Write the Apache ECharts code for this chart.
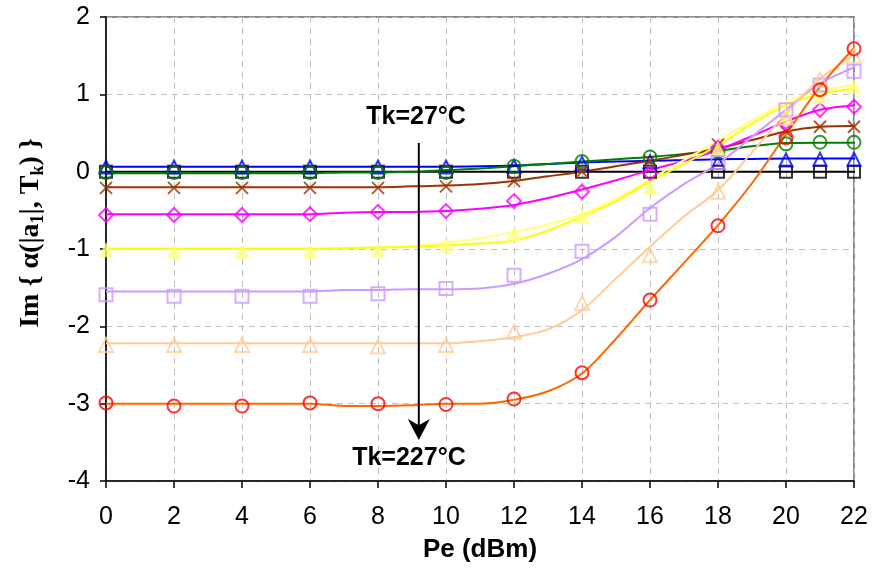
<!DOCTYPE html>
<html>
<head>
<meta charset="utf-8">
<script src="https://cdn.jsdelivr.net/npm/echarts@6/dist/echarts.min.js"></script>
<style>
  html, body { margin: 0; padding: 0; background: #ffffff; }
  #chart { width: 872px; height: 572px; }
</style>
</head>
<body>
<div id="chart"></div>
<script>
// Input power levels (dBm) where the measured points sit
const pePoints = [0, 2, 4, 6, 8, 10, 12, 14, 16, 18, 20, 21, 22];
// Input power levels (dBm) for the continuous curves
const peCurve = [0, 1, 2, 3, 4, 5, 6, 7, 8, 9, 10, 11, 12, 13, 14, 15, 16, 17, 18, 19, 20, 21, 22, 22.25];

// Measured Im{alpha} per temperature
const pts27  = [0, 0, 0, 0, 0, 0, 0, 0, 0, 0, 0, 0, 0];
const pts52  = [0.06, 0.06, 0.06, 0.06, 0.06, 0.06, 0.07, 0.11, 0.13, 0.12, 0.15, 0.16, 0.16];
const pts77  = [-0.01, -0.01, -0.01, -0.01, -0.01, -0.01, 0.07, 0.13, 0.19, 0.26, 0.36, 0.38, 0.38];
const pts102 = [-0.21, -0.21, -0.21, -0.21, -0.21, -0.19, -0.12, 0.0, 0.14, 0.35, 0.52, 0.58, 0.58];
const pts127 = [-0.56, -0.56, -0.56, -0.55, -0.52, -0.51, -0.38, -0.26, -0.02, 0.31, 0.64, 0.80, 0.84];
const pts152 = [-1.01, -1.03, -1.03, -1.03, -1.01, -0.95, -0.80, -0.58, -0.20, 0.30, 0.73, 0.97, 1.10];
const pts177 = [-1.59, -1.61, -1.61, -1.61, -1.58, -1.51, -1.34, -1.03, -0.55, 0.12, 0.80, 1.12, 1.30];
const pts202 = [-2.24, -2.24, -2.24, -2.24, -2.26, -2.24, -2.07, -1.70, -1.08, -0.26, 0.70, 1.19, 1.50];
const pts227 = [-2.99, -3.03, -3.03, -2.99, -3.00, -3.01, -2.94, -2.60, -1.66, -0.70, 0.44, 1.06, 1.59];

// Model curves per temperature
const fit27  = [0, 0, 0, 0, 0, 0, 0, 0, 0, 0, 0, 0, 0, 0, 0, 0, 0, 0, 0, 0, 0, 0, 0, 0];
const fit52  = [0.065, 0.065, 0.065, 0.065, 0.065, 0.065, 0.065, 0.065, 0.065, 0.065, 0.065, 0.07, 0.08, 0.10, 0.12, 0.13, 0.14, 0.15, 0.16, 0.165, 0.17, 0.17, 0.17, 0.17];
const fit77  = [-0.02, -0.02, -0.02, -0.02, -0.02, -0.02, -0.02, -0.01, -0.01, 0.0, 0.02, 0.04, 0.07, 0.10, 0.13, 0.16, 0.19, 0.23, 0.27, 0.33, 0.37, 0.375, 0.375, 0.375];
const fit102 = [-0.20, -0.20, -0.20, -0.20, -0.20, -0.20, -0.20, -0.20, -0.20, -0.19, -0.18, -0.16, -0.12, -0.06, 0.0, 0.07, 0.14, 0.22, 0.30, 0.41, 0.52, 0.58, 0.59, 0.59];
const fit127 = [-0.55, -0.55, -0.55, -0.55, -0.55, -0.55, -0.55, -0.53, -0.52, -0.52, -0.51, -0.48, -0.43, -0.34, -0.23, -0.11, 0.02, 0.14, 0.28, 0.46, 0.65, 0.80, 0.86, 0.88];
const fit152 = [-1.00, -1.00, -1.00, -1.00, -1.00, -1.00, -1.00, -0.99, -0.98, -0.97, -0.95, -0.93, -0.89, -0.76, -0.58, -0.38, -0.13, 0.10, 0.34, 0.62, 0.86, 1.00, 1.08, 1.12];
const fit152b = [-0.99, -0.99, -0.99, -0.99, -0.99, -0.99, -0.99, -0.99, -0.98, -0.96, -0.92, -0.86, -0.78, -0.68, -0.55, -0.35, -0.10, 0.15, 0.40, 0.66, 0.90, 1.05, 1.12, 1.15];
const fit177 = [-1.55, -1.55, -1.55, -1.55, -1.55, -1.55, -1.55, -1.53, -1.53, -1.52, -1.52, -1.51, -1.45, -1.32, -1.13, -0.84, -0.47, -0.16, 0.10, 0.45, 0.80, 1.14, 1.35, 1.40];
const fit202 = [-2.22, -2.22, -2.22, -2.22, -2.22, -2.22, -2.22, -2.22, -2.22, -2.22, -2.22, -2.19, -2.14, -2.04, -1.79, -1.38, -0.97, -0.58, -0.24, 0.25, 0.75, 1.20, 1.52, 1.60];
const fit227 = [-3.00, -3.00, -3.00, -3.00, -3.00, -3.00, -3.00, -3.03, -3.03, -3.02, -3.00, -3.00, -2.95, -2.84, -2.61, -2.16, -1.66, -1.18, -0.69, -0.15, 0.48, 1.10, 1.60, 1.70];

// Axis ticks
const xTicks = { min: 0, max: 22, step: 2 };
const yTicks = { min: -4, max: 2, step: 1 };

const SANS = '"Liberation Sans", Arial, sans-serif';
const SERIF = '"Liberation Serif", "Times New Roman", serif';
const X_PATH = 'path://M0,0L10,10M10,0L0,10';

const curves = [
  { y: fit27,  color: '#000000' },
  { y: fit52,  color: '#0000ff' },
  { y: fit77,  color: '#008000' },
  { y: fit102, color: '#993300' },
  { y: fit127, color: '#ff00ff' },
  { y: fit152b, color: '#ffff80' },
  { y: fit152, color: '#ffff00' },
  { y: fit177, color: '#cc99ff' },
  { y: fit202, color: '#ffcc99' },
  { y: fit227, color: '#ff6600' }
];

const markers = [
  { y: pts27,  symbol: 'rect',     size: 12, stroke: '#000000' },
  { y: pts52,  symbol: 'triangle', size: 13, stroke: '#0000ff' },
  { y: pts77,  symbol: 'circle',   size: 13, stroke: '#008000' },
  { y: pts102, symbol: X_PATH,     size: 12, stroke: '#993300' },
  { y: pts127, symbol: 'diamond',  size: 14, stroke: '#ff00ff' },
  { y: pts152, symbol: 'triangle', size: 15, fill: '#ffff80' },
  { y: pts177, symbol: 'rect',     size: 13, stroke: '#cc99ff' },
  { y: pts202, symbol: 'triangle', size: 14, stroke: '#ffcc99' },
  { y: pts227, symbol: 'circle',   size: 13, stroke: '#ff0000' }
];

const zip = (xs, ys) => xs.map((x, i) => [x, ys[i]]);

const series = [];
curves.forEach(c => {
  series.push({
    type: 'line',
    data: zip(peCurve, c.y),
    symbol: 'none',
    smooth: 0.3,
    clip: false,
    lineStyle: { color: c.color, width: 2 },
    z: 2,
    silent: true
  });
});
markers.forEach(m => {
  series.push({
    type: 'scatter',
    data: zip(pePoints, m.y),
    symbol: m.symbol,
    symbolSize: m.size,
    clip: false,
    itemStyle: m.fill
      ? { color: m.fill, borderWidth: 0 }
      : { color: 'rgba(0,0,0,0)', borderColor: m.stroke, borderWidth: 2 },
    z: 3,
    silent: true
  });
});

const chart = echarts.init(document.getElementById('chart'), null, { renderer: 'canvas' });

chart.setOption({
  animation: false,
  backgroundColor: '#ffffff',
  grid: {
    left: 106, top: 17, right: 18, bottom: 91,
    show: true, borderColor: '#8c8c8c', borderWidth: 2
  },
  xAxis: {
    type: 'value',
    min: xTicks.min, max: xTicks.max, interval: xTicks.step,
    axisLine: { show: true, onZero: false, lineStyle: { color: '#000000', width: 1.5 } },
    axisTick: { show: true, inside: false, length: 7, lineStyle: { color: '#000000', width: 1.5 } },
    axisLabel: { color: '#000000', fontSize: 25, fontFamily: SANS, margin: 24 },
    splitLine: { show: true, lineStyle: { color: '#c0c0c0', width: 1, type: [6, 5] } },
    name: 'Pe (dBm)',
    nameLocation: 'middle',
    nameGap: 56,
    nameTextStyle: { color: '#000000', fontSize: 26, fontWeight: 'bold', fontFamily: SANS }
  },
  yAxis: {
    type: 'value',
    min: yTicks.min, max: yTicks.max, interval: yTicks.step,
    axisLine: { show: true, onZero: false, lineStyle: { color: '#000000', width: 1.5 } },
    axisTick: { show: true, inside: false, length: 6, lineStyle: { color: '#000000', width: 1.5 } },
    axisLabel: { color: '#000000', fontSize: 25, fontFamily: SANS, margin: 16 },
    splitLine: { show: true, lineStyle: { color: '#c0c0c0', width: 1, type: [6, 5] } }
  },
  series: series
});

// Temperature sweep annotation: labels and arrow placed in data coordinates
const noteTop = { text: 'Tk=27°C', at: [9.12, 0.71] };
const noteBottom = { text: 'Tk=227°C', at: [8.91, -3.70] };
const arrowFrom = [9.2, 0.37];
const arrowTo = [9.2, -3.47];

const px = p => chart.convertToPixel({ gridIndex: 0 }, p);
const a0 = px(arrowFrom);
const a1 = px(arrowTo);
const headLen = 21, headHalf = 11;

const noteStyle = t => ({
  text: t, fill: '#000000', font: 'bold 25px ' + SANS,
  align: 'center', verticalAlign: 'middle'
});

chart.setOption({
  graphic: [
    {
      type: 'text', x: px(noteTop.at)[0], y: px(noteTop.at)[1],
      style: noteStyle(noteTop.text), z: 10
    },
    {
      type: 'text', x: px(noteBottom.at)[0], y: px(noteBottom.at)[1],
      style: noteStyle(noteBottom.text), z: 10
    },
    {
      type: 'line',
      shape: { x1: a0[0], y1: a0[1], x2: a1[0], y2: a1[1] - headLen * 0.6 },
      style: { stroke: '#000000', lineWidth: 2 }, z: 10
    },
    {
      type: 'polygon',
      shape: {
        points: [
          [a1[0] - headHalf, a1[1] - headLen],
          [a1[0], a1[1]],
          [a1[0] + headHalf, a1[1] - headLen],
          [a1[0], a1[1] - headLen * 0.7]
        ]
      },
      style: { fill: '#000000' }, z: 10
    },
    {
      type: 'text', x: 31, y: 233, rotation: Math.PI / 2,
      style: {
        text: 'Im { α(|a{s|1}|, T{s|k}) }',
        fill: '#000000',
        font: 'bold 28px ' + SERIF,
        align: 'center', verticalAlign: 'middle',
        rich: {
          s: { fontSize: 18, fontWeight: 'bold', fontFamily: SERIF, fill: '#000000', padding: [14, 0, 0, 0] }
        }
      },
      z: 10
    }
  ]
});
</script>
</body>
</html>
